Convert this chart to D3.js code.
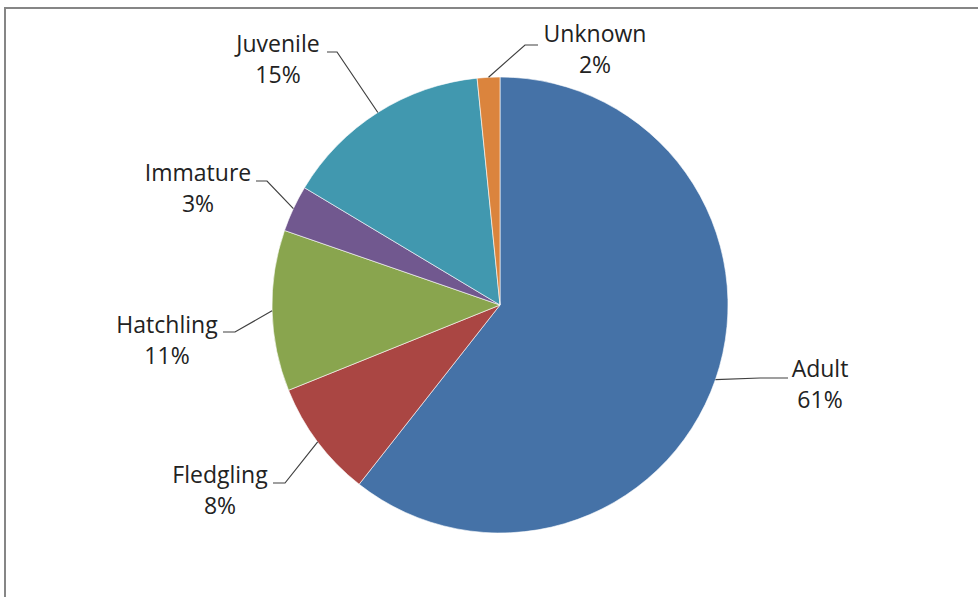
<!DOCTYPE html>
<html>
<head>
<meta charset="utf-8">
<script src="https://cdn.jsdelivr.net/npm/d3@7/dist/d3.min.js"></script>
<style>
  html, body { margin: 0; padding: 0; background: #fff; }
  svg { display: block; }
</style>
</head>
<body>
<svg id="chart" width="978" height="597"></svg>
<script>
// Age classes, in clockwise order starting at 12 o'clock
const categories = ["Adult", "Fledgling", "Hatchling", "Immature", "Juvenile", "Unknown"];
// Share of records per age class (percent)
const shares = [60.6, 8.3, 11.4, 3.3, 14.8, 1.6];
const colors = ["#4572A7", "#AA4643", "#89A54E", "#71588F", "#4198AF", "#DB843D"];

// Label placement: text centre x, first baseline y, leader elbow x/y, leader end x
const labelLayout = [
  { cx: 820, by: 377, ex: 760, ey: 378, tx: 788 },
  { cx: 220, by: 483, ex: 285, ey: 483, tx: 273 },
  { cx: 167, by: 333, ex: 235, ey: 332, tx: 223 },
  { cx: 198, by: 181, ex: 267, ey: 181, tx: 256 },
  { cx: 278, by: 52,  ex: 337, ey: 52,  tx: 327 },
  { cx: 595, by: 42,  ex: 525, ey: 45,  tx: 538 }
];

const svg = d3.select("#chart");
const width = 978, height = 597;
const cx = 500, cy = 305, radius = 228;

// Outer frame of the chart area
svg.append("rect")
  .attr("x", 5).attr("y", 8)
  .attr("width", width + 20).attr("height", height + 20)
  .attr("fill", "#fff")
  .attr("stroke", "#868686")
  .attr("stroke-width", 2);

const data = categories.map((c, i) => ({ name: c, value: shares[i], color: colors[i], layout: labelLayout[i] }));

const pie = d3.pie().value(d => d.value).sort(null);
const arc = d3.arc().innerRadius(0).outerRadius(radius);
const arcs = pie(data);

const g = svg.append("g").attr("transform", `translate(${cx},${cy})`);

g.selectAll("path.slice")
  .data(arcs)
  .enter().append("path")
  .attr("class", "slice")
  .attr("d", arc)
  .attr("fill", d => d.data.color)
  .attr("stroke", "#fff")
  .attr("stroke-width", 0.6);

// Leader lines from each slice edge to its label
const lines = svg.append("g");
arcs.forEach(a => {
  const mid = (a.startAngle + a.endAngle) / 2;
  const px = cx + radius * Math.sin(mid);
  const py = cy - radius * Math.cos(mid);
  const L = a.data.layout;
  lines.append("polyline")
    .attr("points", `${px},${py} ${L.ex},${L.ey} ${L.tx},${L.ey}`)
    .attr("fill", "none")
    .attr("stroke", "#404040")
    .attr("stroke-width", 1.2);
});

// Category name and rounded percentage
const labels = svg.append("g")
  .attr("font-family", "'Open Sans', 'Noto Sans', sans-serif")
  .attr("font-size", 23)
  .attr("fill", "#222")
  .attr("text-anchor", "middle");

const total = d3.sum(shares);
arcs.forEach(a => {
  const L = a.data.layout;
  const t = labels.append("text").attr("x", L.cx).attr("y", L.by);
  t.append("tspan").attr("x", L.cx).text(a.data.name);
  t.append("tspan").attr("x", L.cx).attr("dy", 31)
    .text(Math.round(a.data.value / total * 100) + "%");
});
</script>
</body>
</html>
